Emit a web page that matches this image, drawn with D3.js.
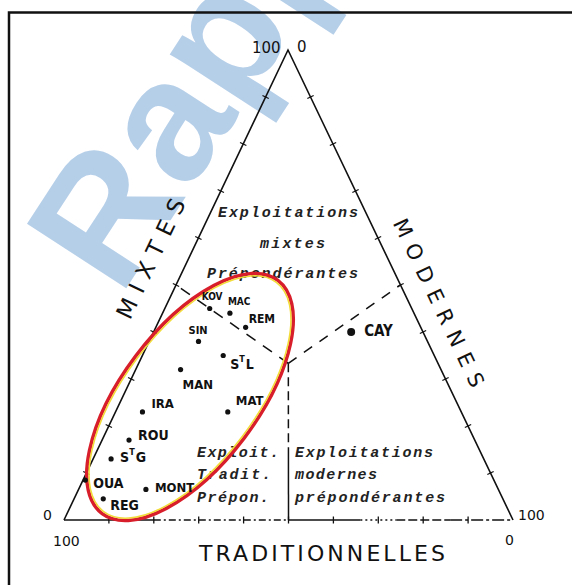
<!DOCTYPE html>
<html>
  <head>
    <meta charset="utf-8">
    <title>Diagramme triangulaire</title>
    <script src="https://d3js.org/d3.v7.min.js"></script>
    <style>
      body { margin: 0; background: #fff; }
      svg { display: block; }
    </style>
  </head>
  <body>
    <script>

      // Communes and their share of farms (%), by type
      var sites           = ["KOV", "MAC", "REM", "SIN", "STL", "MAN", "MAT", "CAY", "IRA", "ROU", "STG", "OUA", "MONT", "REG"];
      var mixtes          = [45,    44,    41,    38,    35,    32,    23,    40,    23,    17,    13,    8.5,   6.5,    4.5];
      var modernes        = [10,    15,    20,    11,    18,    10,    25,    44,    6,     6,     4,     0.5,   15,     6.5];
      var traditionnelles = [45,    41,    39,    51,    47,    58,    52,    16,    71,    77,    83,    91,    78.5,   89];

      var tickValues = [10, 20, 30, 40, 50, 60, 70, 80, 90];
      var endLabels  = ["0", "100"];

      var W = 572, H = 585;

      var svg = d3.select("body").append("svg")
        .attr("width",  W)
        .attr("height", H);

      // watermark behind everything
      svg.append("text")
        .attr("transform", "translate(120,298) rotate(-57)")
        .attr("font-family", "Liberation Sans, Arial, sans-serif")
        .attr("font-weight", "bold")
        .attr("font-size", 172)
        .attr("fill", "#b6cfe9")
        .text("Rapport");

      // frame (open on right and bottom)
      svg.append("path")
        .attr("d", "M9,585 V12.5 H572")
        .attr("fill", "none")
        .attr("stroke", "#111")
        .attr("stroke-width", 2.5);

      // triangle vertices: apex = 100% mixtes, left = 100% traditionnelles, right = 100% modernes
      var A = [288, 50], L = [64, 520], R = [513, 520];
      var frac = d3.scaleLinear().domain([0, 100]).range([0, 1]);

      function project(m, d, t) {
        var a = frac(m), b = frac(d), c = frac(t);
        return [A[0] * a + R[0] * b + L[0] * c, A[1] * a + R[1] * b + L[1] * c];
      }
      function along(p, q, f) { return [p[0] + (q[0] - p[0]) * f, p[1] + (q[1] - p[1]) * f]; }

      var line = d3.line();
      var g = svg.append("g");

      // sides
      g.append("path").attr("d", line([L, A, R]))
        .attr("fill", "none").attr("stroke", "#111").attr("stroke-width", 1.6);

      // base: drawn in pieces like the original (solid / dash-dot)
      var baseParts = [
        [0.00, 0.20, null],
        [0.20, 0.50, "7,3,2,3"],
        [0.50, 0.66, null],
        [0.66, 0.74, "2,3"],
        [0.74, 0.86, "9,3"],
        [0.86, 1.00, "12,3,3,3"]
      ];
      g.selectAll("path.base").data(baseParts).enter().append("path")
        .attr("class", "base")
        .attr("d", function(p) { return line([along(L, R, p[0]), along(L, R, p[1])]); })
        .attr("stroke", "#111").attr("stroke-width", 1.6)
        .attr("stroke-dasharray", function(p) { return p[2]; });

      // ticks every 10 %
      var sides = [[L, A], [A, R], [L, R]];
      sides.forEach(function(s) {
        var p = s[0], q = s[1];
        var dx = q[0] - p[0], dy = q[1] - p[1], len = Math.hypot(dx, dy);
        var nx = -dy / len * 3.5, ny = dx / len * 3.5;
        g.selectAll(null).data(tickValues).enter().append("line")
          .attr("x1", function(v) { return along(p, q, frac(v))[0] - nx; })
          .attr("y1", function(v) { return along(p, q, frac(v))[1] - ny; })
          .attr("x2", function(v) { return along(p, q, frac(v))[0] + nx; })
          .attr("y2", function(v) { return along(p, q, frac(v))[1] + ny; })
          .attr("stroke", "#111").attr("stroke-width", 1.3);
      });

      // dominance boundaries: centroid to the middle of each side
      var C = project(100 / 3, 100 / 3, 100 / 3);
      var split = [
        [C, along(L, A, 0.5), "11,9"],
        [C, along(A, R, 0.5), "10,9"],
        [C, along(C, along(L, R, 0.5), 0.54), "9,5"],
        [along(C, along(L, R, 0.5), 0.54), along(L, R, 0.5), null]
      ];
      g.selectAll("path.split").data(split).enter().append("path")
        .attr("class", "split")
        .attr("d", function(s) { return line([s[0], s[1]]); })
        .attr("stroke", "#111").attr("stroke-width", 1.5)
        .attr("stroke-dasharray", function(s) { return s[2]; });

      // corner labels
      var tf = "DejaVu Sans, sans-serif";
      var corners = [
        [endLabels[1], 252, 53, 15], [endLabels[0], 297, 52, 15],
        [endLabels[0], 43, 520, 14], [endLabels[1], 53, 546, 14],
        [endLabels[1], 518, 520, 14], [endLabels[0], 505, 545, 14]
      ];
      g.selectAll("text.corner").data(corners).enter().append("text")
        .attr("class", "corner")
        .attr("x", function(c) { return c[1]; })
        .attr("y", function(c) { return c[2]; })
        .attr("font-family", tf).attr("font-size", function(c) { return c[3]; })
        .attr("fill", "#111")
        .text(function(c) { return c[0]; });

      // axis titles
      g.append("text")
        .attr("transform", "translate(160,258) rotate(-64.5)")
        .attr("text-anchor", "middle")
        .attr("font-family", tf).attr("font-size", 23)
        .attr("letter-spacing", 9)
        .attr("fill", "#111")
        .text("MIXTES");
      g.append("text")
        .attr("transform", "translate(434,310) rotate(64.5)")
        .attr("text-anchor", "middle")
        .attr("font-family", tf).attr("font-size", 21)
        .attr("letter-spacing", 9)
        .attr("fill", "#111")
        .text("MODERNES");
      g.append("text")
        .attr("x", 199).attr("y", 561)
        .attr("textLength", 246).attr("lengthAdjust", "spacing")
        .attr("font-family", tf).attr("font-size", 22)
        .attr("fill", "#111")
        .text("TRADITIONNELLES");

      // zone captions
      var captions = [
        ["Exploitations", 218, 217, 140], ["mixtes", 260, 248, 65], ["Prépondérantes", 207, 278, 151],
        ["Exploit.", 197, 457, 82], ["Tradit.", 197, 479, 74], ["Prépon.", 197, 502, 72],
        ["Exploitations", 295, 457, 138], ["modernes", 295, 479, 82], ["prépondérantes", 295, 502, 150]
      ];
      g.selectAll("text.cap").data(captions).enter().append("text")
        .attr("class", "cap")
        .attr("x", function(c) { return c[1]; })
        .attr("y", function(c) { return c[2]; })
        .attr("textLength", function(c) { return c[3]; })
        .attr("lengthAdjust", "spacing")
        .attr("font-family", "Liberation Mono, monospace")
        .attr("font-style", "italic")
        .attr("font-weight", "bold")
        .attr("font-size", 15)
        .attr("fill", "#222")
        .text(function(c) { return c[0]; });

      // highlight ellipse (yellow inner rim + red)
      var ell = svg.append("g").attr("transform", "translate(190,397) rotate(-53)");
      ell.append("ellipse").attr("rx", 146).attr("ry", 68)
        .attr("fill", "none").attr("stroke", "#d81e2a").attr("stroke-width", 3.5);
      ell.append("ellipse").attr("rx", 143.5).attr("ry", 65.5)
        .attr("fill", "none").attr("stroke", "#f2dc3a").attr("stroke-width", 1.6);

      // points
      var pts = sites.map(function(s, i) {
        var p = project(mixtes[i], modernes[i], traditionnelles[i]);
        return { name: s, x: p[0], y: p[1] };
      });

      // label placement: [dx, dy, font-size]
      var labelPos = {
        KOV: [-8, -9, 10], MAC: [-2, -8, 10], REM: [3, -4, 12], SIN: [-10, -7, 11],
        STL: [7, 13, 14], MAN: [2, 19, 13], MAT: [8, -7, 13], CAY: [13, 4, 15],
        IRA: [9, -4, 13], ROU: [9, 0, 14], STG: [9, 3, 14], OUA: [8, 8, 14],
        MONT: [9, 3, 13], REG: [7, 11, 14]
      };

      var dots = svg.append("g");
      dots.selectAll("circle").data(pts).enter().append("circle")
        .attr("cx", function(d) { return d.x; })
        .attr("cy", function(d) { return d.y; })
        .attr("r", function(d) { return d.name === "CAY" ? 4 : 2.6; })
        .attr("fill", "#111");

      var labels = dots.selectAll("text").data(pts).enter().append("text")
        .attr("x", function(d) { return d.x + labelPos[d.name][0]; })
        .attr("y", function(d) { return d.y + labelPos[d.name][1]; })
        .attr("font-family", "DejaVu Sans Condensed, DejaVu Sans, sans-serif")
        .attr("font-weight", "bold")
        .attr("font-size", function(d) { return labelPos[d.name][2]; })
        .attr("fill", "#111");

      labels.each(function(d) {
        var t = d3.select(this);
        if (d.name === "STL" || d.name === "STG") {
          t.append("tspan").text("S");
          t.append("tspan").attr("dy", -7).attr("font-size", 9).text("T");
          t.append("tspan").attr("dy", 7).attr("dx", 1).text(d.name.slice(2));
        } else {
          t.text(d.name);
        }
      });

    </script>
  </body>
</html>
